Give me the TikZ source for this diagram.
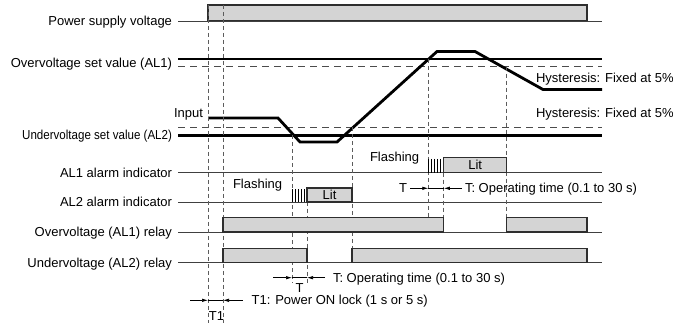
\documentclass[tikz,border=0pt]{standalone}
\usepackage{fontspec}
\setmainfont{Liberation Sans}
\usetikzlibrary{arrows.meta}
\definecolor{boxfill}{HTML}{D4D4D4}
\definecolor{boxline}{HTML}{2E2E2E}
\definecolor{guidecol}{HTML}{5C5C5C}

\begin{document}
\begin{tikzpicture}[x=1pt, y=-1pt,
    every node/.style={font=\fontsize{13}{15}\selectfont, inner sep=0pt, outer sep=0pt},
    lab/.style={anchor=base east},
    txt/.style={anchor=base west},
    base/.style={line width=0.9pt, color=black!75},
    setline/.style={line width=2.2pt, color=black},
    hyst/.style={line width=1pt, dash pattern=on 7pt off 5pt, color=black!70},
    guide/.style={line width=0.7pt, dash pattern=on 4pt off 3pt, color=guidecol},
    sig/.style={draw=boxline, fill=boxfill, line width=1.2pt},
    inp/.style={line width=2.8pt, line join=miter, color=black},
    flash/.style={line width=0.9pt, color=black},
    arr/.style={-{Latex[length=6pt, width=3.5pt]}, line width=0.7pt},
]
\useasboundingbox (0,0) rectangle (673,323);

% ================================================================ labels
\node[lab] (lpow) at (172, 25.6)  {Power supply voltage};
\node[lab] (lov)  at (172, 67.5)  {Overvoltage set value (AL1)};
\node[lab] (lin)  at (203, 118)   {Input};
\node[lab] (lun)  at (172, 140)   {\scalebox{0.89}[1]{Undervoltage set value (AL2)}};
\node[lab] (la1)  at (172, 177.3) {AL1 alarm indicator};
\node[lab] (la2)  at (172, 206.6) {AL2 alarm indicator};
\node[lab] (lr1)  at (172, 236.6) {Overvoltage (AL1) relay};
\node[lab] (lr2)  at (172, 267.3) {Undervoltage (AL2) relay};

\node[txt] (hy1) at (536, 82.8)  {Hysteresis: Fixed at 5\%};
\node[txt] (hy2) at (536, 117.8) {Hysteresis: Fixed at 5\%};

% ================================================================ signals
\draw[sig] (208, 21) rectangle (587, 5);
\foreach \y in {21, 172.7, 202, 232, 262.7}{
    \draw[base] (178, \y) -- (602, \y);
}
\draw[setline] (178, 59) -- (602, 59);
\draw[hyst]    (178, 66.7) -- (602, 66.7);
\draw[hyst]    (178, 127.3) -- (602, 127.3);
\draw[setline] (178, 135.5) -- (602, 135.5);

\draw[inp] (208, 118) -- (278, 118) -- (300, 142) -- (337, 142)
    -- (437, 51.5) -- (475, 51.5) -- (543, 89.5) -- (602, 89.5);

% guides
\draw[guide] (208, 5) -- (208, 323);
\draw[guide] (223, 5) -- (223, 323);
\draw[guide] (292, 135.5) -- (292, 283);
\draw[guide] (307, 202) -- (307, 283);
\draw[guide] (352, 127.3) -- (352, 248.3);
\draw[guide] (428.3, 59) -- (428.3, 232);
\draw[guide] (443.8, 172.7) -- (443.8, 217.5);
\draw[guide] (506.5, 66.7) -- (506.5, 217.5);

% relays
\draw[sig] (223, 232) rectangle (443.8, 217.5);
\draw[sig] (506.5, 232) rectangle (587, 217.5);
\draw[sig] (223, 262.7) rectangle (307, 248.3);
\draw[sig] (352, 262.7) rectangle (587, 248.3);

% indicators
\node[sig, minimum width=62.7pt, minimum height=15.4pt, anchor=south west] (lit1)
    at (443.8, 172.7) {Lit};
\node[sig, minimum width=45pt, minimum height=14pt, anchor=south west] (lit2)
    at (307, 202) {Lit};
\foreach \k in {0,...,4}{
    \draw[flash] ({428.8 + \k*2.9}, 159) -- ({428.8 + \k*2.9}, 172.7);
    \draw[flash] ({292.5 + \k*2.9}, 189.3) -- ({292.5 + \k*2.9}, 202);
}
\node[txt] (fl1) at (370, 162)   {Flashing};
\node[txt] (fl2) at (233, 188.3) {Flashing};

% ================================================================ times
\coordinate (t1a) at (208, 300.3);
\coordinate (t1b) at (223, 300.3);
\coordinate (t2a) at (292, 277.7);
\coordinate (t2b) at (307, 277.7);
\coordinate (t3a) at (428.3, 188.3);
\coordinate (t3b) at (443.8, 188.3);

\node[txt] (opt1) at (465, 192.9) {T: Operating time (0.1 to 30 s)};
\node[anchor=base east] (tt3) at (407, 192.9) {T};
\draw[arr] ([xshift=3pt]tt3.base east |- t3a) -- (t3a);
\draw (t3a) -- (t3b);
\draw[arr] ([xshift=-3pt]opt1.base west |- t3b) -- (t3b);

\node[txt] (opt2) at (333, 282.3) {T: Operating time (0.1 to 30 s)};
\node[anchor=base] (tt2) at (299.5, 293) {T};
\draw[arr] (273, 277.7) -- (t2a);
\draw (t2a) -- (t2b);
\draw[arr] ([xshift=-8pt]opt2.base west |- t2b) -- (t2b);

\node[txt] (pon) at (251.7, 304.9) {T1: Power ON lock (1 s or 5 s)};
\node[anchor=base] (tt1) at (216.5, 321) {T1};
\draw[arr] (190, 300.3) -- (t1a);
\draw (t1a) -- (t1b);
\draw[arr] ([xshift=-9pt]pon.base west |- t1b) -- (t1b);

\end{tikzpicture}
\end{document}
